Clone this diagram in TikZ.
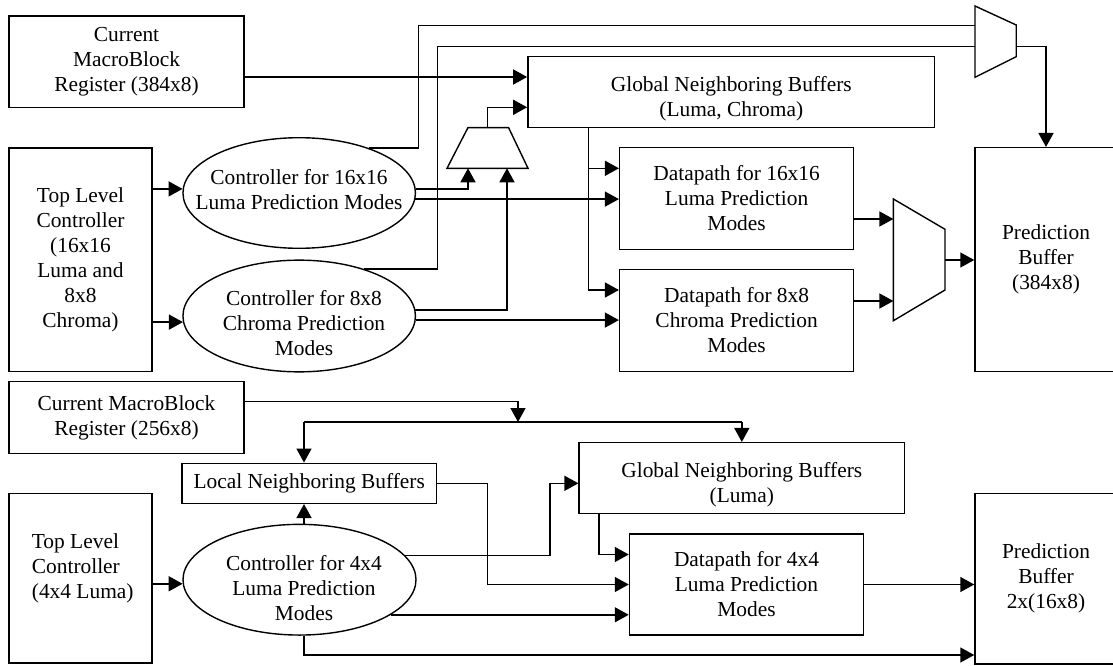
\documentclass[tikz,border=0pt]{standalone}
\usepackage{fontspec}
\setmainfont{Liberation Serif}
\usetikzlibrary{arrows.meta,shapes.geometric}
\newcommand{\diagfont}{\fontsize{21.4}{25}\selectfont}
\tikzset{
  wire/.style={line width=1.5pt},
  flow/.style={wire,-{Triangle[length=14pt,width=15pt]}},
  box/.style={draw,line width=1.5pt,inner sep=0pt,align=center,font=\diagfont},
  oval/.style={draw,ellipse,line width=1.4pt,inner sep=0pt},
  txt/.style={inner sep=0pt,align=center,font=\diagfont},
  mux/.style={draw,line width=1.4pt,line join=miter},
}
\begin{document}
\begin{tikzpicture}[x=1pt,y=-1pt]
\useasboundingbox (0,0) rectangle (1113,666);
\clip (0,0) rectangle (1113,666);

% ---------------- upper half: 16x16 luma and 8x8 chroma ----------------
\node[box,minimum width=235pt,minimum height=91.3pt] (cmrA) at (126.5,61.7)
  {Current\\MacroBlock\\Register (384x8)};
\node[box,minimum width=143pt,minimum height=223.7pt] (tlcA) at (80.5,259.8)
  {Top Level\\Controller\\(16x16\\Luma and\\8x8\\Chroma)};
\node[oval,minimum width=232.5pt,minimum height=110.6pt] (e16) at (299.2,193) {};
\node[txt] (e16t) at (299,190) {Controller for 16x16\\Luma Prediction Modes};
\node[oval,minimum width=232.5pt,minimum height=111.7pt] (e8) at (299.2,316) {};
\node[txt] (e8t) at (304,323.5) {Controller for 8x8\\Chroma Prediction\\Modes};
\node[box,minimum width=406.8pt,minimum height=71pt] (gnbA) at (731.3,92.2) {};
\node[txt] (gnbAt) at (731.3,99) {Global Neighboring Buffers\\(Luma, Chroma)};
\node[box,minimum width=233.9pt,minimum height=101.6pt] (dp16) at (736.6,198.5)
  {Datapath for 16x16\\Luma Prediction\\Modes};
\node[box,minimum width=233.9pt,minimum height=102.4pt] (dp8) at (736.6,320.5)
  {Datapath for 8x8\\Chroma Prediction\\Modes};
\node[box,minimum width=142pt,minimum height=224pt] (pbA) at (1046,259.7)
  {Prediction\\Buffer\\(384x8)};

% multiplexers
\draw[mux] (447,168.3) -- (467.9,127.7) -- (508.6,127.7) -- (528,168.3) -- cycle;
\coordinate (muxAin1) at (468,168.3);
\coordinate (muxAin2) at (507,168.3);
\coordinate (muxAout) at (487.5,127.7);
\draw[mux] (975,6) -- (1016.2,25) -- (1016.2,56.7) -- (975,77.3) -- cycle;
\coordinate (muxBin1) at (975,25.7);
\coordinate (muxBin2) at (975,46.7);
\coordinate (muxBout) at (1016.2,46.7);
\draw[mux] (893.4,199) -- (945,229.3) -- (945,290) -- (893.4,320.7) -- cycle;
\coordinate (muxCin1) at (893.4,219);
\coordinate (muxCin2) at (893.4,301);
\coordinate (muxCout) at (945,260);
\coordinate (gA) at (588.6,127.7);

% connectors
\draw[flow] ([yshift=-15.3pt]cmrA.east) -- ([yshift=-15.3pt]cmrA.east -| gnbA.west);
\draw[flow] (muxAout) |- ([yshift=-15.1pt]gnbA.west);
\draw[flow] (tlcA.east |- e16.178.5) -- (e16.178.5);
\draw[flow] (tlcA.east |- e8.-177.2) -- (e8.-177.2);
\draw[flow] (e16.2.3) -| (muxAin1);
\draw[flow] (e16.-3) -- (dp16.west |- e16.-3);
\draw[wire] (e16.33.9) -- ++(50,0) |- (muxBin1);
\draw[wire] (e8.36.2) -- ++(73.4,0) |- (muxBin2);
\draw[flow] (e8.3) -| (muxAin2);
\draw[flow] (e8.-2.8) -- (dp8.west |- e8.-2.8);
\draw[flow] (gA) |- ([yshift=30.5pt]dp8.west);
\draw[flow] ([yshift=30.2pt]dp16.west -| gA) -- ([yshift=30.2pt]dp16.west);
\draw[flow] (dp16.east |- muxCin1) -- (muxCin1);
\draw[flow] (dp8.east |- muxCin2) -- (muxCin2);
\draw[flow] (muxCout) -- (pbA.west |- muxCout);
\draw[flow] (muxBout) -| (pbA.north);

% ---------------- lower half: 4x4 luma ----------------
\node[box,minimum width=235pt,minimum height=71.6pt] (cmrB) at (126.5,417.5)
  {Current MacroBlock\\Register (256x8)};
\node[box,minimum width=254.4pt,minimum height=40pt] (lnb) at (309.2,483.3)
  {Local Neighboring Buffers};
\node[box,minimum width=143pt,minimum height=169.7pt] (tlcB) at (80.5,578.2) {};
\node[txt,anchor=west,align=left] (tlcBt) at (31.7,568) {Top Level\\Controller\\(4x4 Luma)};
\node[oval,minimum width=233pt,minimum height=110.7pt] (e4) at (299.5,579.7) {};
\node[txt] (e4t) at (304,588.3) {Controller for 4x4\\Luma Prediction\\Modes};
\node[box,minimum width=325.3pt,minimum height=70.6pt] (gnbB) at (741.8,478) {};
\node[txt] (gnbBt) at (741.8,485) {Global Neighboring Buffers\\(Luma)};
\node[box,minimum width=234pt,minimum height=101pt] (dp4) at (746.5,584.5)
  {Datapath for 4x4\\Luma Prediction\\Modes};
\node[box,minimum width=142pt,minimum height=170.7pt] (pbB) at (1046,578.7)
  {Prediction\\Buffer\\2x(16x8)};

\coordinate (jB) at (518,422);
\coordinate (bL) at (304,422);
\coordinate (bR) at (741.8,422);
\coordinate (gB) at (599.2,513.3);

\draw[flow] ([yshift=15.8pt]cmrB.east) -| (jB);
\draw[wire] (bL) -- (bR);
\draw[flow] (bL) -- (lnb.north -| bL);
\draw[flow] (bR) -- (gnbB.north);
\draw[flow] (e4.north -| bL) -- (lnb.south -| bL);
\draw[flow] (tlcB.east |- e4.182.6) -- (e4.182.6);
\draw[flow] (e4.13.8) -- ++(145.2,0) |- ([yshift=-5.3pt]gnbB.west);
\draw[flow] (lnb.east) -- ++(50.4,0) |- (dp4.west);
\draw[flow] (gB) |- ([yshift=30pt]dp4.west);
\draw[flow] (e4.-21.5) -- (dp4.west |- e4.-21.5);
\draw[flow] (e4.south -| bL) |- ([yshift=-76.3pt]pbB.west);
\draw[flow] (dp4.east) -- (pbB.west |- dp4.east);
\end{tikzpicture}
\end{document}
